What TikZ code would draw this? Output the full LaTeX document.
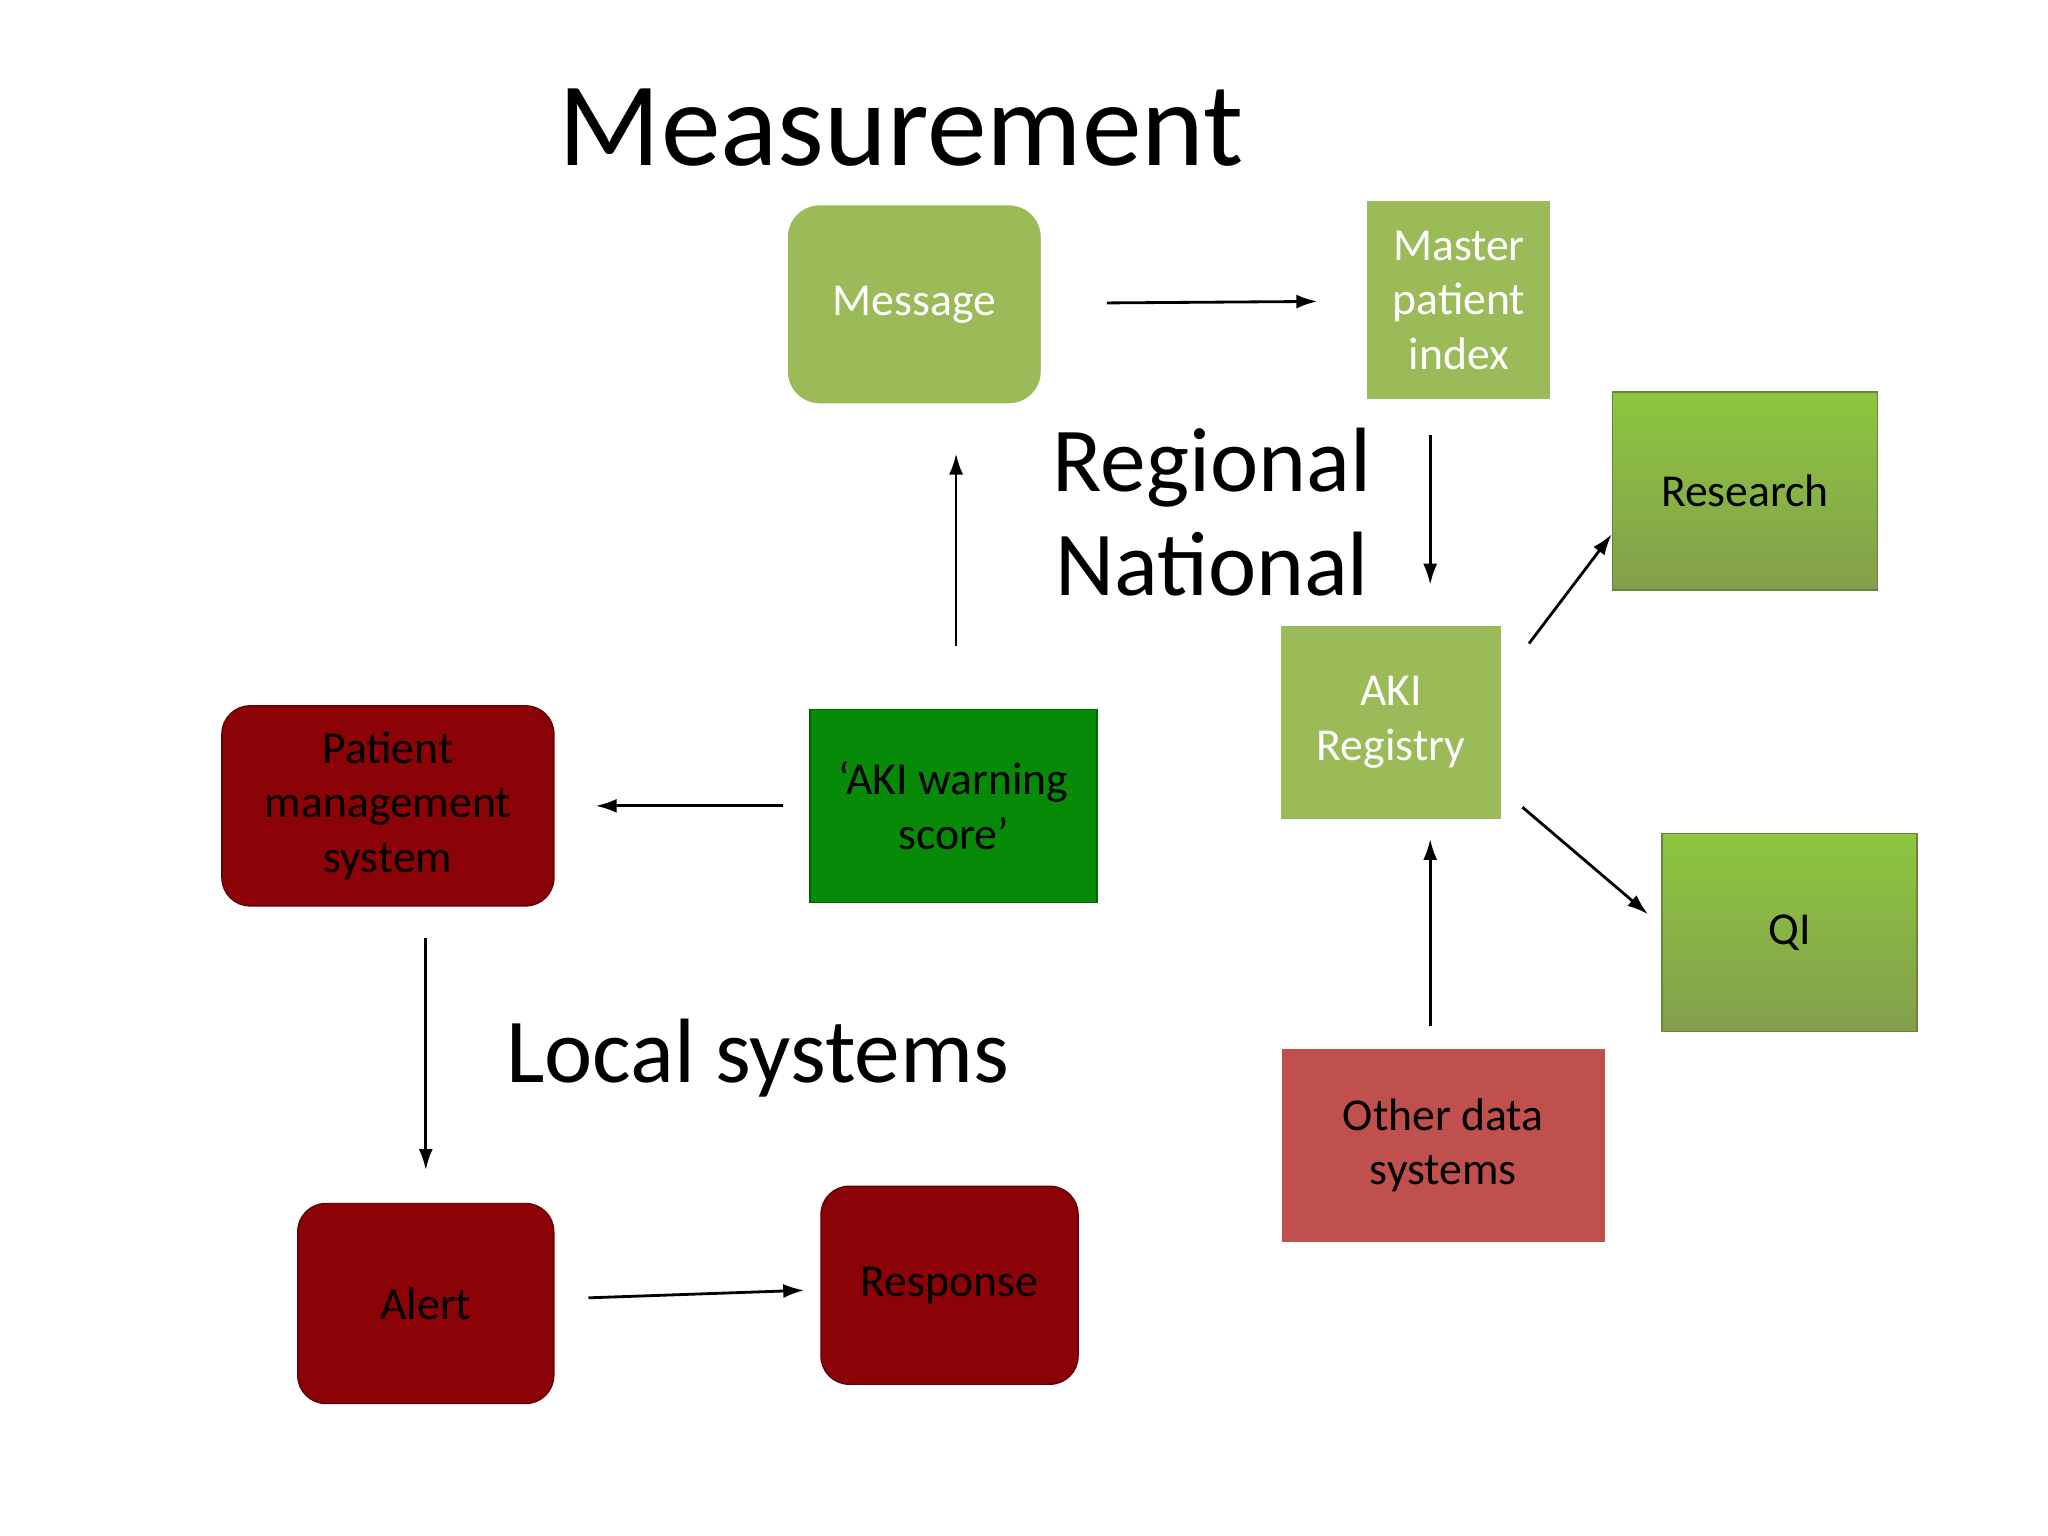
\documentclass[tikz,border=0pt]{standalone}
\usepackage{fontspec}
\setmainfont{Carlito}
\usepackage{xcolor}
\usetikzlibrary{positioning, arrows.meta, calc}

\definecolor{olivegreen}{HTML}{9BBB59}
\definecolor{brightgreen}{HTML}{8CC63F}
\definecolor{deepgreen}{HTML}{078A07}
\definecolor{darkred}{HTML}{8B0306}
\definecolor{softred}{HTML}{C0504D}

\begin{document}
\begin{tikzpicture}[
    x=0.01306cm, y=-0.01306cm,
    box/.style={rectangle, minimum width=#1, align=center, font=\fontsize{13}{15.5}\selectfont},
    lightbox/.style={rectangle, fill=olivegreen, draw=white, line width=2pt, text=white, font=\fontsize{13}{15.5}\selectfont, align=center},
    gradbox/.style={rectangle, top color=brightgreen, bottom color=olivegreen!85!black, draw=olivegreen!70!black, font=\fontsize{13}{15.5}\selectfont, align=center},
    redbox/.style={rectangle, rounded corners=8pt, fill=darkred, draw=darkred!70!black, font=\fontsize{13}{15.5}\selectfont, align=center},
    heading/.style={font=\fontsize{26}{31}\selectfont},
    link/.style={-{Latex[length=6pt,width=4pt]}, thick}
]
    \useasboundingbox (0,0) rectangle (1568,1176);

    \node[font=\fontsize{34}{40}\selectfont] (title) at (690,98) {Measurement};

    % regional / national
    \node[lightbox, rounded corners=10pt, minimum width=2.6cm, minimum height=2.05cm] (message) at (700,233) {Message};
    \node[lightbox, minimum width=1.9cm, minimum height=2.05cm] (mpi) at (1117,230) {Master\\patient\\index};
    \node[lightbox, minimum width=2.27cm, minimum height=2.0cm] (registry) at (1065,553) {AKI\\Registry};
    \node[gradbox, minimum width=2.65cm, minimum height=1.98cm] (research) at (1336,376) {Research};
    \node[gradbox, minimum width=2.55cm, minimum height=1.98cm] (qi) at (1370,714) {QI};
    \node[rectangle, fill=softred, draw=white, line width=2pt, minimum width=3.3cm, minimum height=2.0cm, font=\fontsize{13}{15.5}\selectfont, align=center] (other) at (1105,877) {Other data\\systems};

    \node[heading] (regional) at (928,358) {Regional};
    \node[heading] (national) at (928,432) {National};

    % local systems
    \node[rectangle, fill=deepgreen, draw=deepgreen!70!black, minimum width=2.87cm, minimum height=1.93cm, font=\fontsize{13}{15.5}\selectfont, align=center] (warning) at (730,617) {`AKI warning\\score'};
    \node[redbox, minimum width=3.32cm, minimum height=2.0cm] (pms) at (297,617) {Patient\\management\\system};
    \node[redbox, minimum width=2.56cm, minimum height=2.0cm] (alert) at (326,998) {Alert};
    \node[redbox, minimum width=2.57cm, minimum height=1.98cm] (response) at (727,984) {Response};

    \node[heading] (local) at (580,810) {Local systems};

    % connectors
    \draw[link, shorten <=0.59cm, shorten >=0.43cm] (message) -- (mpi);
    \draw[link] ($(mpi.south)+(-22,22)$) -- ($(registry.north)+(30,-26)$);
    \draw[link] ($(warning.north)+(2,-48)$) -- ($(message.south -| warning.north)+(2,33)$);
    \draw[link, shorten <=0.26cm, shorten >=0.41cm] (warning) -- (pms);
    \draw[link] ($(pms.south -| alert.north)+(0,24)$) -- ($(alert.north)+(0,-25)$);
    \draw[link, shorten <=0.34cm, shorten >=0.16cm] (alert) -- (response);
    \draw[link] ($(other.north)+(-10,-12)$) -- ($(registry.south)+(30,10)$);
    \draw[link] ($(registry.north east)+(16,19)$) -- ($(research.west)+(0,33)$);
    \draw[link] ($(registry.east)+(11,65)$) -- ($(qi.west)+(-10,-14)$);
\end{tikzpicture}
\end{document}
